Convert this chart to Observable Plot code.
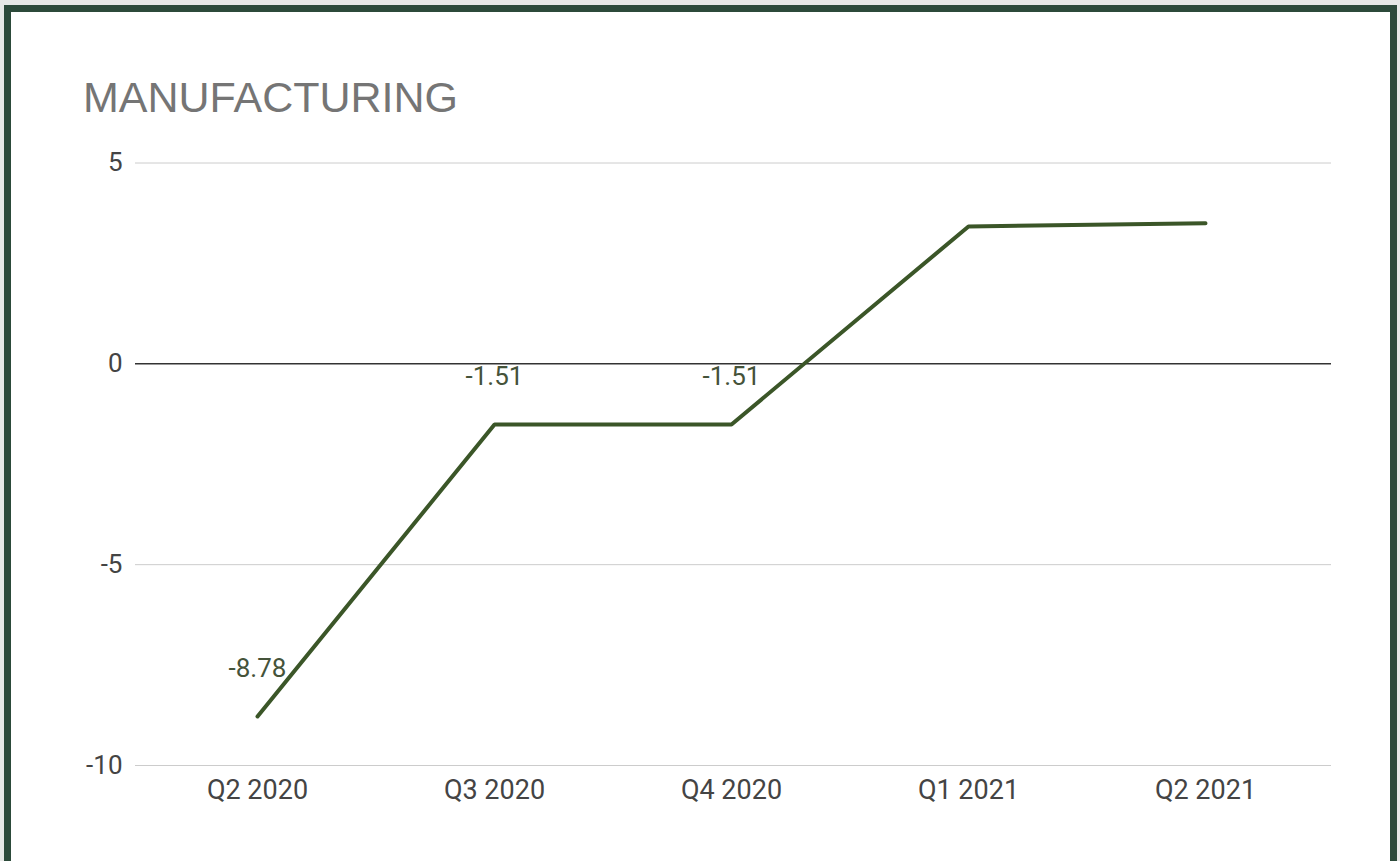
<!DOCTYPE html>
<html>
<head>
<meta charset="utf-8">
<script src="https://cdn.jsdelivr.net/npm/d3@7"></script>
<script src="https://cdn.jsdelivr.net/npm/@observablehq/plot@0.6"></script>
<style>
  html, body { margin: 0; padding: 0; }
  body { width: 1400px; height: 861px; overflow: hidden; background: #e6e8e6; position: relative; }
  #frame { position: absolute; left: 4px; top: 5px; width: 1379px; height: 900px; border: 7px solid #2c4a3a; border-bottom: none; background: #ffffff; }
  #title { position: absolute; left: 83px; top: 76px; font-family: "Liberation Sans", Arial, sans-serif; font-size: 43px; color: #757575; line-height: 1; white-space: nowrap; }
  #chart { position: absolute; left: 0; top: 0; }
</style>
</head>
<body>
<div id="frame"></div>
<div id="title">MANUFACTURING</div>
<div id="chart"></div>
<script>
const quarters = ["Q2 2020", "Q3 2020", "Q4 2020", "Q1 2021", "Q2 2021"];
const values = [-8.78, -1.51, -1.51, 3.42, 3.50];
const labelQuarters = ["Q2 2020", "Q3 2020", "Q4 2020"];
const labelValues = [-8.78, -1.51, -1.51];
const yTicks = [5, 0, -5, -10];
const gridValues = [5, -5, -10];
const zeroValue = [0];

const data = quarters.map((q, i) => ({q, v: values[i]}));
const labels = labelQuarters.map((q, i) => ({q, v: labelValues[i], t: String(labelValues[i])}));

const plot = Plot.plot({
  width: 1400,
  height: 861,
  marginLeft: 135,
  marginRight: 69,
  marginTop: 162.5,
  marginBottom: 96,
  style: {background: "transparent", fontFamily: "Roboto, sans-serif"},
  x: {type: "point", domain: quarters, range: [255, 1206], padding: 0, axis: null},
  y: {domain: [-10, 5], range: [765, 162.5], axis: null},
  marks: [
    Plot.ruleY(gridValues, {stroke: "#cccccc", strokeWidth: 1}),
    Plot.ruleY(zeroValue, {stroke: "#333333", strokeWidth: 1.5}),
    Plot.axisY({ticks: yTicks, tickFormat: d => String(d), tickSize: 0, tickPadding: 13, fontSize: 26, color: "#444444", label: null}),
    Plot.axisX({tickSize: 0, tickPadding: 14, fontSize: 27, color: "#444444", label: null}),
    Plot.line(data, {x: "q", y: "v", stroke: "#3b5628", strokeWidth: 4, strokeLinejoin: "miter"}),
    Plot.text(labels, {x: "q", y: "v", text: "t", dy: -48, fontSize: 26, fill: "#45533a"})
  ]
});
document.getElementById("chart").appendChild(plot);
</script>
</body>
</html>
